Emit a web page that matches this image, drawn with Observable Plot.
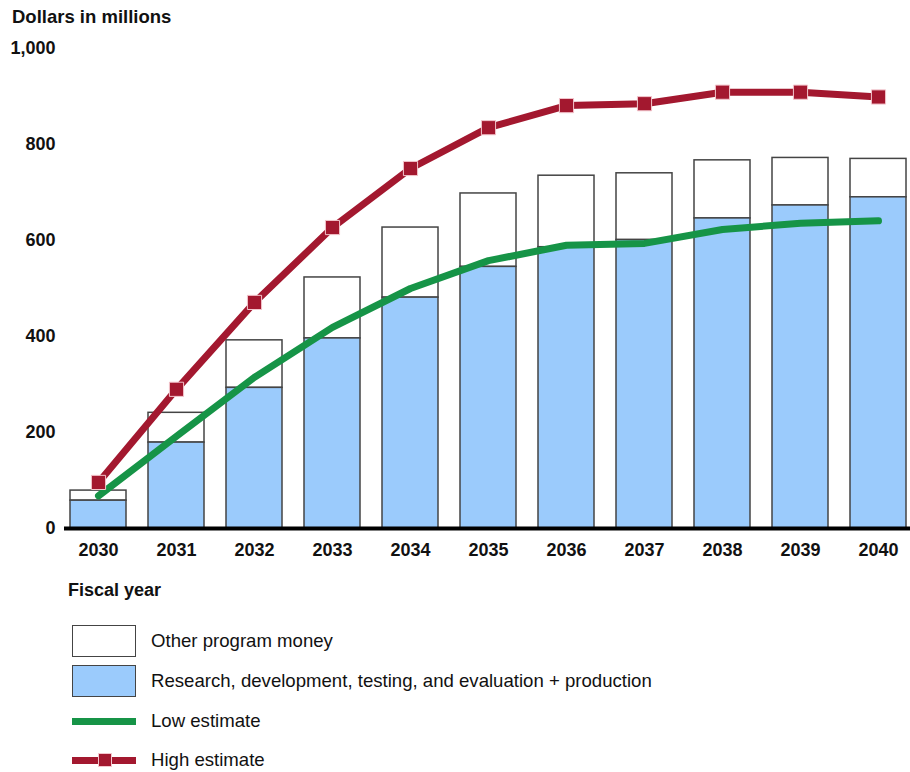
<!DOCTYPE html>
<html>
<head>
<meta charset="utf-8">
<script src="https://cdn.jsdelivr.net/npm/d3@7"></script>
<script src="https://cdn.jsdelivr.net/npm/@observablehq/plot@0.6"></script>
<style>
  html, body { margin: 0; padding: 0; background: #fff; }
  body { width: 910px; height: 772px; position: relative; font-family: "Liberation Sans", Arial, sans-serif; overflow: hidden; }
  #chart { position: absolute; left: 0; top: 0; }
  .title { position: absolute; left: 12px; top: 6px; font-weight: bold; font-size: 18.5px; color: #111; }
  .xlabel { position: absolute; left: 68px; top: 580px; font-weight: bold; font-size: 18px; color: #111; }
  .legend { position: absolute; left: 72px; top: 625px; }
  .item { position: absolute; left: 0; width: 700px; height: 32px; }
  .sw { position: absolute; left: 0; top: 0; width: 64px; height: 32px; box-sizing: border-box; }
  .lab { position: absolute; left: 79px; font-size: 18.6px; color: #111; white-space: nowrap; line-height: 22px; }
</style>
</head>
<body>
<div id="chart"></div>
<div class="title">Dollars in millions</div>
<div class="xlabel">Fiscal year</div>
<div class="legend" id="legend"></div>
<script>
const years = ["2030","2031","2032","2033","2034","2035","2036","2037","2038","2039","2040"];
const rdteProduction = [58, 179, 293, 396, 481, 545, 586, 601, 646, 673, 690];
const totalProgram   = [79, 241, 392, 523, 627, 698, 735, 740, 767, 772, 770];
const lowEstimate    = [68, 192, 315, 419, 500, 558, 590, 594, 623, 636, 641];
const highEstimate   = [96, 290, 471, 627, 750, 835, 881, 885, 909, 909, 899];
const yTicks = [0, 200, 400, 600, 800, 1000];
const legendLabels = ["Other program money", "Research, development, testing, and evaluation + production", "Low estimate", "High estimate"];

const colors = { blue: "#9bcbfc", green: "#169447", red: "#a3182f", edge: "#444444" };

const rows = years.map((y, i) => ({
  year: y, rdte: rdteProduction[i], total: totalProgram[i], low: lowEstimate[i], high: highEstimate[i]
}));

const chart = Plot.plot({
  width: 910,
  height: 600,
  marginTop: 48,
  marginBottom: 72,
  marginLeft: 64,
  marginRight: 0,
  style: { fontFamily: "'Liberation Sans', Arial, sans-serif", fontSize: "18px", fontWeight: "bold", color: "#111", background: "#fff" },
  x: { domain: years, range: [66, 910], paddingInner: 0.28, paddingOuter: 0.05, label: null },
  y: { domain: [0, 1000], label: null },
  marks: [
    Plot.barY(rows, { x: "year", y1: "rdte", y2: "total", fill: "#ffffff", stroke: colors.edge, strokeWidth: 1.5 }),
    Plot.barY(rows, { x: "year", y1: 0, y2: "rdte", fill: colors.blue, stroke: colors.edge, strokeWidth: 1.5 }),
    Plot.ruleY([0], { stroke: "#000", strokeWidth: 4 }),
    Plot.line(rows, { x: "year", y: "low", stroke: colors.green, strokeWidth: 7, strokeLinejoin: "round" }),
    Plot.line(rows, { x: "year", y: "high", stroke: colors.red, strokeWidth: 7, strokeLinejoin: "round" }),
    Plot.dot(rows, { x: "year", y: "high", symbol: "square", r: 8, fill: colors.red, stroke: "#f3c6cd", strokeWidth: 1 }),
    Plot.axisY(yTicks, { tickSize: 0, tickPadding: 9, tickFormat: d3.format(","), fontWeight: "bold", fontSize: 18, label: null }),
    Plot.axisX({ tickSize: 0, tickPadding: 15, fontWeight: "bold", fontSize: 18, label: null })
  ]
});
document.getElementById("chart").appendChild(chart);

// Legend
const legend = document.getElementById("legend");
const tops = [0, 40, 80, 119];
legendLabels.forEach((text, i) => {
  const item = document.createElement("div");
  item.className = "item";
  item.style.top = tops[i] + "px";
  const sw = document.createElement("div");
  sw.className = "sw";
  if (i === 0) { sw.style.background = "#fff"; sw.style.border = "1.5px solid " + colors.edge; }
  if (i === 1) { sw.style.background = colors.blue; sw.style.border = "1.5px solid " + colors.edge; }
  if (i === 2) {
    sw.innerHTML = `<div style="position:absolute;left:0;top:13px;width:64px;height:7px;background:${colors.green}"></div>`;
  }
  if (i === 3) {
    sw.innerHTML = `<div style="position:absolute;left:0;top:13px;width:64px;height:7px;background:${colors.red}"></div>
      <div style="position:absolute;left:26px;top:9px;width:14px;height:14px;box-sizing:border-box;background:${colors.red};border:1px solid #f3c6cd"></div>`;
  }
  const lab = document.createElement("div");
  lab.className = "lab";
  lab.textContent = text;
  lab.style.top = "5px";
  item.appendChild(sw);
  item.appendChild(lab);
  legend.appendChild(item);
});
</script>
</body>
</html>
